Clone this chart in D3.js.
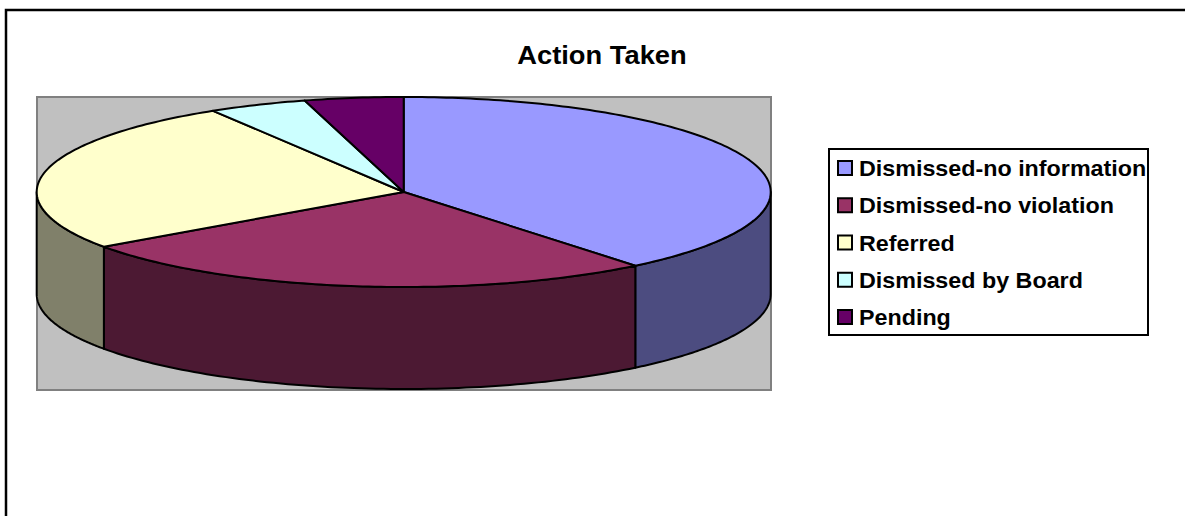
<!DOCTYPE html>
<html>
<head>
<meta charset="utf-8">
<script src="https://cdn.jsdelivr.net/npm/d3@7"></script>
<style>
  html, body { margin: 0; padding: 0; background: #fff; }
  svg { display: block; }
  text { font-family: "Liberation Sans", Arial, sans-serif; font-weight: bold; fill: #000; }
</style>
</head>
<body>
<svg id="chart" width="1185" height="516"></svg>
<script>
const title = "Action Taken";
const categories = ["Dismissed-no information", "Dismissed-no violation", "Referred", "Dismissed by Board", "Pending"];
const values = [27, 18, 18, 3, 3];
const topColors = ["#9999FF", "#993366", "#FFFFCC", "#CCFFFF", "#660066"];
const sideColors = ["#4C4C80", "#4C1933", "#80806A", "#66807F", "#330033"];

const svg = d3.select("#chart");

// horizontally widen text to match the reference's wider glyphs
function widen(sel, factor) {
  sel.each(function () {
    const w = this.getComputedTextLength();
    d3.select(this).attr("textLength", w * factor).attr("lengthAdjust", "spacingAndGlyphs");
  });
}

// outer chart border (extends past right & bottom edges)
svg.append("rect").attr("x", 6).attr("y", 10).attr("width", 1400).attr("height", 1000)
  .attr("fill", "#fff").attr("stroke", "#000").attr("stroke-width", 2.5);

// title
const t = svg.append("text").attr("x", 602).attr("y", 64).attr("text-anchor", "middle")
  .attr("font-size", 26).text(title);
widen(t, 1.05);

// plot area
svg.append("rect").attr("x", 37).attr("y", 97).attr("width", 734).attr("height", 293)
  .attr("fill", "#C0C0C0").attr("stroke", "#808080").attr("stroke-width", 2);

// pie geometry
const cx = 403.7, cy = 192, rx = 367, ry = 95, depth = 102;
const px = a => cx + rx * Math.sin(a);
const py = (a, off) => cy - ry * Math.cos(a) + (off || 0);

const arcs = d3.pie().sort(null).value(d => d).startAngle(0).endAngle(2 * Math.PI)(values);

const g = svg.append("g");
const line = d3.line();

// side faces (front half only: angles between PI/2 and 3PI/2)
arcs.forEach((d, i) => {
  const a0 = Math.max(d.startAngle, Math.PI / 2);
  const a1 = Math.min(d.endAngle, 3 * Math.PI / 2);
  if (a1 <= a0) return;
  const n = 80;
  const pts = [];
  for (let k = 0; k <= n; k++) { const a = a0 + (a1 - a0) * k / n; pts.push([px(a), py(a)]); }
  for (let k = n; k >= 0; k--) { const a = a0 + (a1 - a0) * k / n; pts.push([px(a), py(a, depth)]); }
  g.append("path").attr("d", line(pts) + "Z")
    .attr("fill", sideColors[i]).attr("stroke", "#000").attr("stroke-width", 2)
    .attr("stroke-linejoin", "round");
});

// top faces
arcs.forEach((d, i) => {
  const n = Math.max(8, Math.ceil((d.endAngle - d.startAngle) * 60));
  const pts = [[cx, cy]];
  for (let k = 0; k <= n; k++) {
    const a = d.startAngle + (d.endAngle - d.startAngle) * k / n;
    pts.push([px(a), py(a)]);
  }
  g.append("path").attr("d", line(pts) + "Z")
    .attr("fill", topColors[i]).attr("stroke", "#000").attr("stroke-width", 2)
    .attr("stroke-linejoin", "round");
});

// legend
const lg = svg.append("g");
lg.append("rect").attr("x", 829).attr("y", 149).attr("width", 319).attr("height", 186)
  .attr("fill", "#fff").attr("stroke", "#000").attr("stroke-width", 2);
const yRow = d3.scalePoint().domain(categories).range([176, 325]);
categories.forEach((c, i) => {
  const y = yRow(c);
  lg.append("rect").attr("x", 838).attr("y", y - 15).attr("width", 14).attr("height", 14)
    .attr("fill", topColors[i]).attr("stroke", "#000").attr("stroke-width", 2);
  const lt = lg.append("text").attr("x", 859).attr("y", y).attr("font-size", 21.5).text(c);
  widen(lt, 1.083);
});
</script>
</body>
</html>
